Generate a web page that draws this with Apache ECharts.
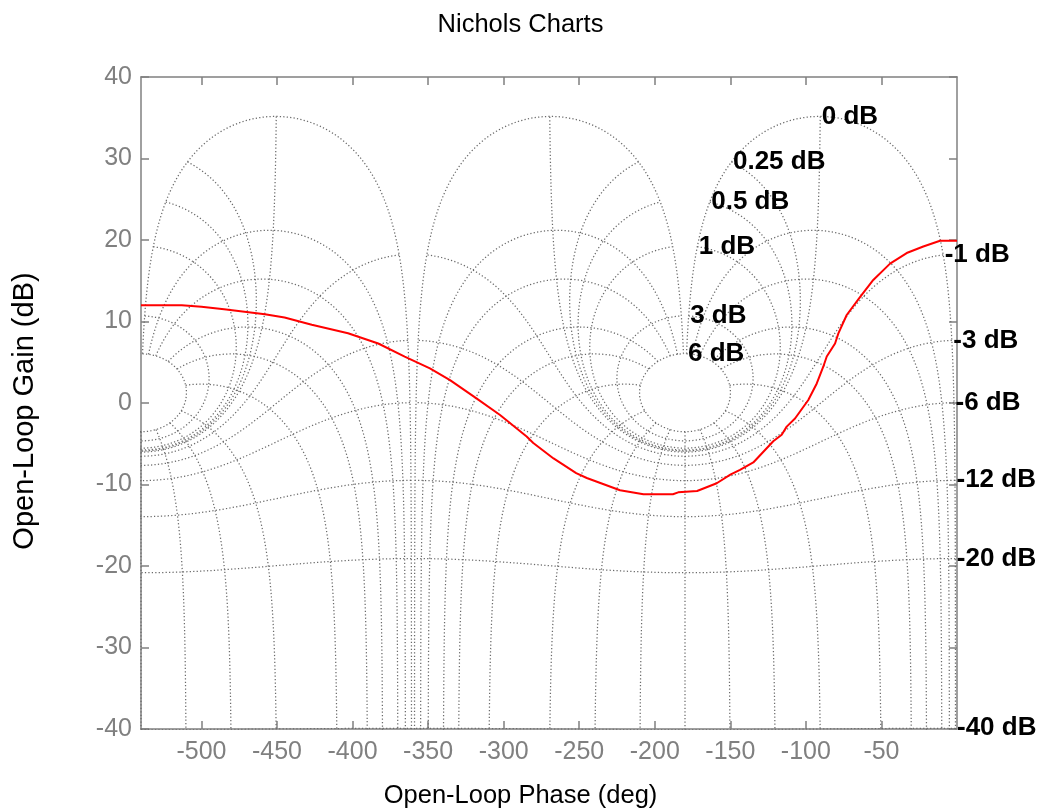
<!DOCTYPE html>
<html>
<head>
<meta charset="utf-8">
<script src="https://cdn.jsdelivr.net/npm/echarts@6/dist/echarts.min.js"></script>
<style>html,body{margin:0;padding:0;background:#fff;}#chart{width:1041px;height:812px;}</style>
</head>
<body>
<div id="chart"></div>
<script>
// ---- Nichols grid definition (closed-loop gains / phases) ----
const closedLoopGainsDb = [6, 3, 1, 0.5, 0.25, 0, -1, -3, -6, -12, -20, -40];
const closedLoopPhasesDeg = [1, 5, 10, 20, 30, 50, 90, 120, 150, 180, 210, 240, 270, 310, 330, 340, 350, 355, 359];
const gridGainFloorDb = -60;
const phaseShiftsDeg = [0, -360];
const labelPhaseDeg = 1;

// ---- Open-loop response ----
const responsePhaseDeg = [-540, -513, -500, -485, -458, -445, -427, -403, -383, -365.5, -348.8, -335.5, -318, -302.4, -284.8, -280.4, -267, -252, -245, -223, -207.5, -188, -184.5, -172, -159, -150, -143.6, -134.8, -121.6, -116, -112.7, -107.2, -98.4, -92.8, -88.5, -86.2, -80.7, -78.5, -73, -64.2, -55.4, -44.3, -33.3, -22.3, -11.2, 0];
const responseGainDb = [12, 12, 11.8, 11.5, 10.9, 10.5, 9.6, 8.55, 7.3, 5.7, 4.25, 2.8, 0.57, -1.47, -4.1, -4.9, -6.8, -8.6, -9.2, -10.7, -11.2, -11.2, -10.96, -10.8, -9.85, -8.8, -8.2, -7.3, -4.7, -3.9, -2.9, -1.9, 0.37, 2.4, 4.45, 5.7, 7.3, 8.55, 10.8, 13.0, 15.1, 17.1, 18.4, 19.2, 19.9, 19.9];

// ---- Axis ticks ----
const xTickValues = [-500, -450, -400, -350, -300, -250, -200, -150, -100, -50];
const yTickValues = [-40, -30, -20, -10, 0, 10, 20, 30, 40];

const GRAY = '#808080';
const FONT = 'Liberation Sans, Arial, Helvetica, sans-serif';

function openLoop(mDb, thetaDeg) {
  const m = Math.pow(10, mDb / 20);
  const th = thetaDeg * Math.PI / 180;
  const dr = 1 - m * Math.cos(th);
  const di = m * Math.sin(th);
  const mag = m / Math.hypot(dr, di);
  const ph = -thetaDeg - Math.atan2(di, dr) * 180 / Math.PI;
  return [ph, 20 * Math.log10(mag)];
}

function rangeSteps(a, b, step) {
  const n = Math.round(Math.abs(b - a) / step);
  const out = [];
  for (let i = 0; i < n; i++) out.push(a + (b - a) * i / n);
  return out;
}

const thetaSamples = [].concat(rangeSteps(1, 20, 0.05), rangeSteps(20, 340, 0.25), rangeSteps(340, 359, 0.05), [359]);
const gainSamples = [].concat(rangeSteps(closedLoopGainsDb[0], 1, 0.02), rangeSteps(1, -1, 0.002), rangeSteps(-1, gridGainFloorDb, 0.05), [gridGainFloorDb]);

const gridStyle = { color: '#6a6a6a', width: 1.25, type: [1.25, 2.2] };
const series = [];

closedLoopGainsDb.forEach(function (mDb) {
  const base = thetaSamples.map(function (t) { return openLoop(mDb, t); });
  phaseShiftsDeg.forEach(function (s) {
    series.push({
      type: 'line', silent: true, showSymbol: false, symbol: 'none', animation: false,
      lineStyle: gridStyle, z: 1,
      data: base.map(function (p) { return [p[0] + s, p[1]]; })
    });
  });
});

closedLoopPhasesDeg.forEach(function (t) {
  const base = gainSamples.map(function (g) { return openLoop(g, t); });
  phaseShiftsDeg.forEach(function (s) {
    series.push({
      type: 'line', silent: true, showSymbol: false, symbol: 'none', animation: false,
      lineStyle: gridStyle, z: 1,
      data: base.map(function (p) { return [p[0] + s, p[1]]; })
    });
  });
});

series.push({
  type: 'line', silent: true, showSymbol: false, symbol: 'none', animation: false, z: 5,
  lineStyle: { color: '#ff0000', width: 2 },
  data: responsePhaseDeg.map(function (p, i) { return [p, responseGainDb[i]]; })
});

series.push({
  type: 'scatter', silent: true, animation: false, clip: false, z: 10,
  symbolSize: 1, itemStyle: { color: 'rgba(255,255,255,0)', opacity: 1 },
  label: {
    show: true, position: 'right', distance: 1, opacity: 1,
    formatter: function (p) { return p.name; },
    color: '#000000', fontWeight: 'bold', fontSize: 26, fontFamily: FONT
  },
  data: closedLoopGainsDb.map(function (mDb) {
    return { name: mDb + ' dB', value: openLoop(mDb, labelPhaseDeg) };
  })
});

function axisCommon(extra) {
  return Object.assign({
    type: 'value',
    axisLine: { show: true, onZero: false, lineStyle: { color: GRAY, width: 1.5 } },
    splitLine: { show: false }
  }, extra);
}
const tickStyle = { color: GRAY, width: 1.5 };

const chart = echarts.init(document.getElementById('chart'), null, { renderer: 'canvas' });
chart.setOption({
  animation: false,
  backgroundColor: '#fff',
  title: [
    {
      text: 'Nichols Charts', left: 'center', top: 7,
      textStyle: { color: '#000', fontWeight: 'normal', fontSize: 25.5, fontFamily: FONT }
    },
    {
      text: 'Open-Loop Phase (deg)', left: 'center', top: 778,
      textStyle: { color: '#000', fontWeight: 'normal', fontSize: 25.5, fontFamily: FONT }
    }
  ],
  graphic: [
    {
      type: 'text', x: 25, y: 411, rotation: Math.PI / 2, silent: true,
      style: {
        text: 'Open-Loop Gain (dB)', fill: '#000', fontSize: 29, fontFamily: FONT,
        align: 'center', verticalAlign: 'middle'
      }
    }
  ],
  grid: { left: 141, right: 84, top: 77, bottom: 83, containLabel: false },
  xAxis: [
    axisCommon({
      position: 'bottom', min: -540, max: 0,
      axisTick: { show: true, inside: true, length: 8, customValues: xTickValues, lineStyle: tickStyle },
      axisLabel: { show: true, customValues: xTickValues, color: GRAY, fontSize: 25, fontFamily: FONT, margin: 11 }
    }),
    axisCommon({
      position: 'top', min: -540, max: 0,
      axisTick: { show: true, inside: true, length: 8, customValues: xTickValues, lineStyle: tickStyle },
      axisLabel: { show: false }
    })
  ],
  yAxis: [
    axisCommon({
      position: 'left', min: -40, max: 40, interval: 10,
      axisTick: { show: true, inside: true, length: 8, customValues: yTickValues, lineStyle: tickStyle },
      axisLabel: { show: true, customValues: yTickValues, color: GRAY, fontSize: 25, fontFamily: FONT, margin: 9 }
    }),
    axisCommon({
      position: 'right', min: -40, max: 40, interval: 10,
      axisTick: { show: true, inside: true, length: 8, customValues: yTickValues, lineStyle: tickStyle },
      axisLabel: { show: false }
    })
  ],
  series: series
});
</script>
</body>
</html>
